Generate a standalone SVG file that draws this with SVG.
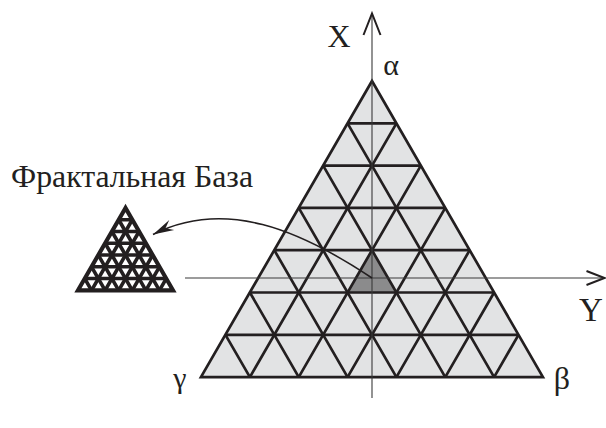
<svg xmlns="http://www.w3.org/2000/svg" xmlns:xlink="http://www.w3.org/1999/xlink" width="606" height="428" viewBox="0 0 606 428">
<style>
.axis{stroke:#3a3a3a;stroke-width:1.1;fill:none}
.axhead{stroke:#231f20;stroke-width:2;fill:none;stroke-linejoin:miter}
.conn{stroke:#231f20;stroke-width:1.6;fill:none}
</style>
<defs>
<polygon id="tri-outline" points="372,81 200.94,377.1 542.94,377.1"/>
<g id="lattice">
<path d="M347.58,123.3H396.42M323.16,165.6H420.84M298.74,207.9H445.26M274.32,250.2H469.68M249.9,292.5H494.1M225.48,334.8H518.52"/>
<path d="M396.42,123.3L249.9,377.1M420.84,165.6L298.74,377.1M445.26,207.9L347.58,377.1M469.68,250.2L396.42,377.1M494.1,292.5L445.26,377.1M518.52,334.8L494.1,377.1"/>
<path d="M347.58,123.3L494.1,377.1M323.16,165.6L445.26,377.1M298.74,207.9L396.42,377.1M274.32,250.2L347.58,377.1M249.9,292.5L298.74,377.1M225.48,334.8L249.9,377.1"/>
</g>
<marker id="barb" markerUnits="userSpaceOnUse" markerWidth="30" markerHeight="20" viewBox="-24 -10 30 20" refX="0" refY="0" orient="auto">
<path d="M0,0 L-21,-5.5 L-14,0 L-21,5.5 Z" fill="#231f20"/>
</marker>
</defs>

<g id="main-triangle">
<use xlink:href="#tri-outline" fill="#e2e3e4" stroke="none"/>
<polygon points="372,250.2 347.58,292.5 396.42,292.5" fill="#8b8b8c"/>
<use xlink:href="#lattice" stroke="#231f20" stroke-width="2.7" fill="none"/>
<use xlink:href="#tri-outline" fill="none" stroke="#231f20" stroke-width="2.7" stroke-linejoin="miter"/>
</g>

<g id="fractal-base" transform="translate(125.5,208) scale(0.278) translate(-372,-81)">
<use xlink:href="#tri-outline" fill="#ffffff" stroke="none"/>
<use xlink:href="#lattice" stroke="#231f20" stroke-width="13" fill="none"/>
<use xlink:href="#tri-outline" fill="none" stroke="#231f20" stroke-width="15" stroke-linejoin="miter"/>
</g>

<g font-family="'Liberation Serif', 'DejaVu Serif', serif" fill="#231f20">
<g id="axes">
<g id="axis-x">
<line class="axis" x1="372" y1="14" x2="372" y2="398"/>
<path class="axhead" d="M363.5,35 L372,13.5 L380.5,35"/>
<text x="339" y="47" font-size="32" text-anchor="middle">X</text>
</g>
<g id="axis-y">
<line class="axis" x1="185" y1="278" x2="604" y2="278"/>
<path class="axhead" d="M586.5,271 L604.5,278 L586.5,285"/>
<text x="591" y="321" font-size="33" text-anchor="middle">Y</text>
</g>
</g>

<g id="vertex-labels">
<text x="391" y="75" font-size="30" text-anchor="middle">α</text>
<text x="562" y="389" font-size="32" text-anchor="middle">β</text>
<text x="180" y="388" font-size="30" text-anchor="middle">γ</text>
</g>

<g id="title">
<text x="11" y="187" font-size="31" textLength="242" lengthAdjust="spacingAndGlyphs">Фрактальная База</text>
</g>
</g>

<g id="connectors">
<path class="conn" d="M372,278 C300,230 225,198 153,234.5" marker-end="url(#barb)"/>
</g>
</svg>
